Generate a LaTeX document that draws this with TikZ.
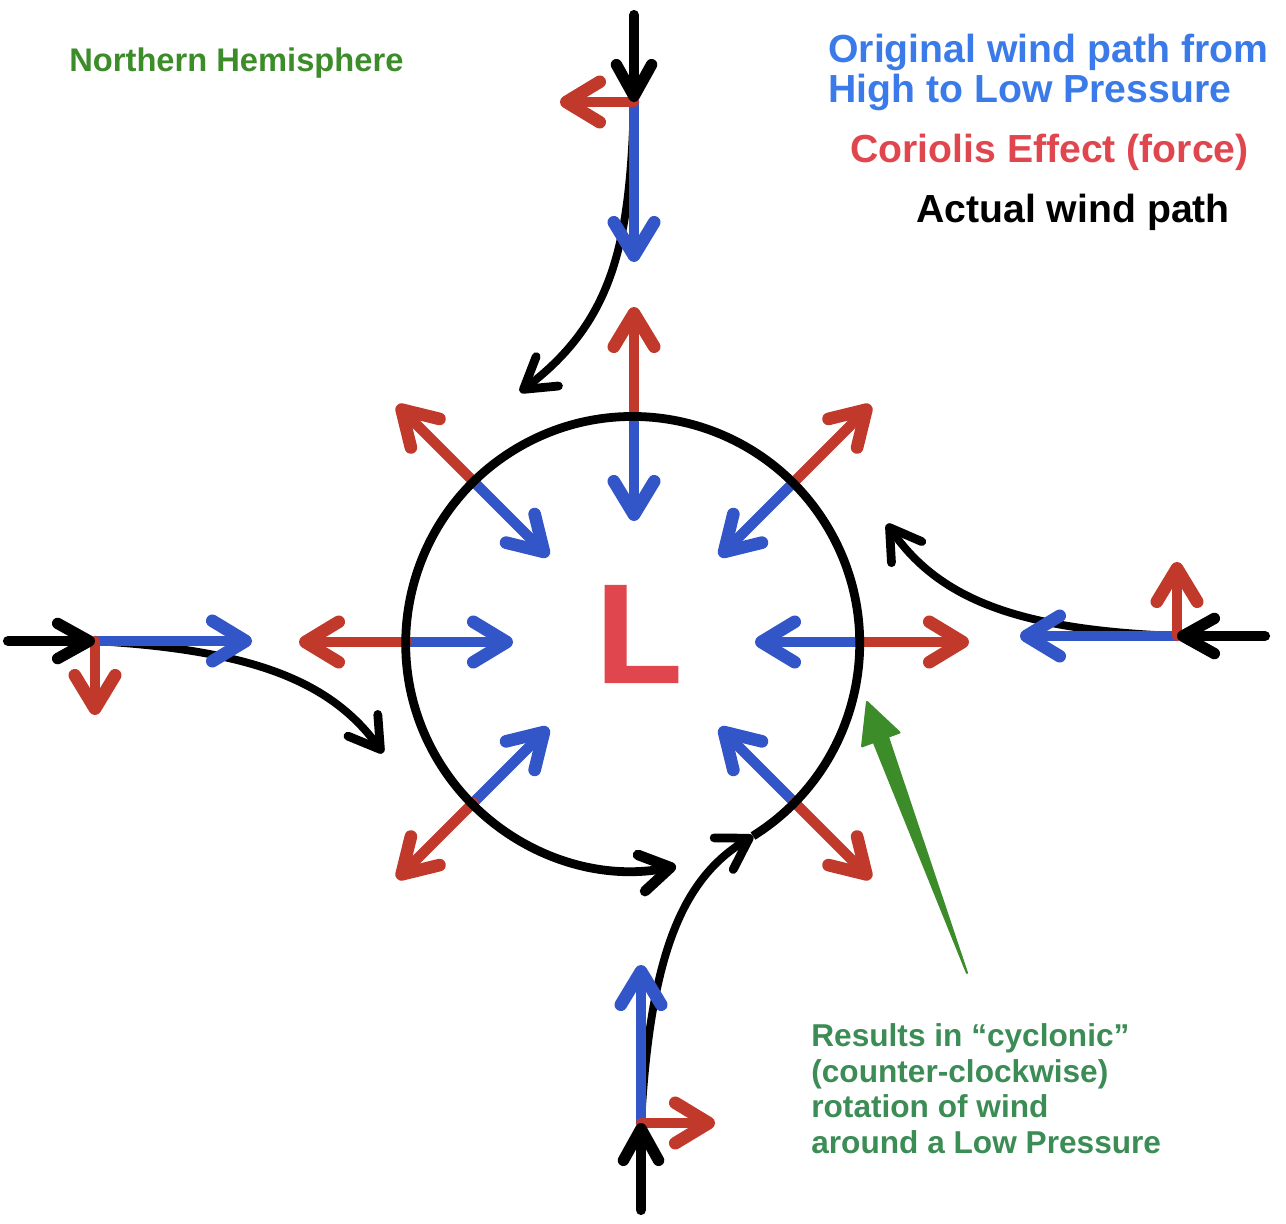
\documentclass[tikz,border=0pt]{standalone}
\usepackage{fontspec}
\setmainfont{Liberation Sans}
\newfontfamily\lowfont{Liberation Sans Bold}[FakeBold=1.2]
\usetikzlibrary{arrows.meta,calc}

\definecolor{windred}{RGB}{192,57,43}
\definecolor{windblue}{RGB}{50,85,200}
\definecolor{labelblue}{RGB}{58,123,233}
\definecolor{labelred}{RGB}{224,70,78}
\definecolor{hemigreen}{RGB}{60,140,42}
\definecolor{notegreen}{RGB}{60,140,85}

\begin{document}
\begin{tikzpicture}[x=0.02cm,y=-0.02cm,
  actual/.style={line width=4.5pt,line cap=round,-{Straight Barb[round,line width=5pt,length=17pt,width=21pt]}},
  incoming/.style={line width=5.8pt,line cap=round,-{Straight Barb[round,line width=6.5pt,length=18pt,width=20pt]}},
  orig/.style={windblue,line width=6pt,line cap=round,-{Straight Barb[round,line width=7.2pt,length=19pt,width=23pt]}},
  coriolis/.style={windred,line width=6pt,line cap=round,-{Straight Barb[round,line width=7.2pt,length=19pt,width=23pt]}},
  legend/.style={font=\fontsize{22.3}{24}\selectfont\bfseries,anchor=base west,inner sep=0pt},
  note/.style={font=\fontsize{18}{20}\selectfont\bfseries,text=notegreen,anchor=base west,inner sep=0pt}]
\useasboundingbox (0,0) rectangle (1286,1224);

\coordinate (c) at (634,642);

% wind coming in from the four sides
\coordinate (nstart) at (634,15);   \coordinate (nhit) at (634,102);
\coordinate (wstart) at (8,641);    \coordinate (whit) at (95,641);
\coordinate (estart) at (1265,636); \coordinate (ehit) at (1177,636);
\coordinate (sstart) at (641,1210); \coordinate (shit) at (641,1123);
\coordinate (ntip) at (520,392);
\coordinate (wtip) at (383,753);
\coordinate (etip) at (887,524);
\coordinate (stip) at (753,836);

\draw[actual] (nhit) .. controls (630,240) and (615,320) .. (ntip);
\draw[actual] (whit) .. controls (250,650) and (330,680) .. (wtip);
\draw[actual] (ehit) .. controls (1020,630) and (940,600) .. (etip);
\draw[actual] (shit) .. controls (650,960) and (680,880) .. (stip);

\draw[orig] (nhit) -- (634,262);
\draw[orig] (whit) -- (252,641);
\draw[orig] (ehit) -- (1020,636);
\draw[orig] (shit) -- (641,965);

\draw[coriolis] (nhit) -- (560,102);
\draw[coriolis] (whit) -- (95,715);
\draw[coriolis] (ehit) -- (1177,562);
\draw[coriolis] (shit) -- (715,1123);

\draw[incoming] (nstart) -- (nhit);
\draw[incoming] (wstart) -- (whit);
\draw[incoming] (estart) -- (ehit);
\draw[incoming] (sstart) -- (shit);

% pressure gradient and coriolis round the low
\foreach \a in {0,45,90,135,180,225,315}{
  \coordinate (p\a) at ($(c)+(-\a:227)$);
  \draw[orig] (p\a) -- ($(p\a)+(180-\a:106)$);
  \draw[coriolis] (p\a) -- ($(p\a)+(-\a:108)$);
}

\draw[line width=5pt,-{Straight Barb[round,line width=6pt,length=17pt,width=21pt]}] (stip) arc[start angle=58,end angle=-281,radius=227];

\node[font=\fontsize{80}{80}\selectfont\lowfont,text=labelred,inner sep=0pt] (low) at (639,634) {L};

% pointer to the note
\coordinate (gtip) at (867,702);
\coordinate (gtail) at (967,973);
\coordinate (gbase) at ($(gtip)!0.138!(gtail)$);
\filldraw[hemigreen,line width=1.2pt,line join=round] (gtail) -- ($(gbase)!0.19!90:(gtip)$) -- ($(gbase)!0.5!90:(gtip)$) -- (gtip)
  -- ($(gbase)!0.5!-90:(gtip)$) -- ($(gbase)!0.19!-90:(gtip)$) -- cycle;

\node[font=\fontsize{18.6}{20}\selectfont\bfseries,text=hemigreen,anchor=base west,inner sep=0pt] (hemi) at (69,71) {Northern Hemisphere};
\node[legend,text=labelblue] (orig1) at (828,62) {Original wind path from};
\node[legend,text=labelblue] (orig2) at (828,102) {High to Low Pressure};
\node[legend,text=labelred] (cor) at (850,162) {Coriolis Effect (force)};
\node[legend] (act) at (916,222) {Actual wind path};

\node[note] (note1) at (811,1046) {Results in “cyclonic”};
\node[note] (note2) at (811,1082) {(counter-clockwise)};
\node[note] (note3) at (811,1117) {rotation of wind};
\node[note] (note4) at (811,1153) {around a Low Pressure};
\end{tikzpicture}
\end{document}
